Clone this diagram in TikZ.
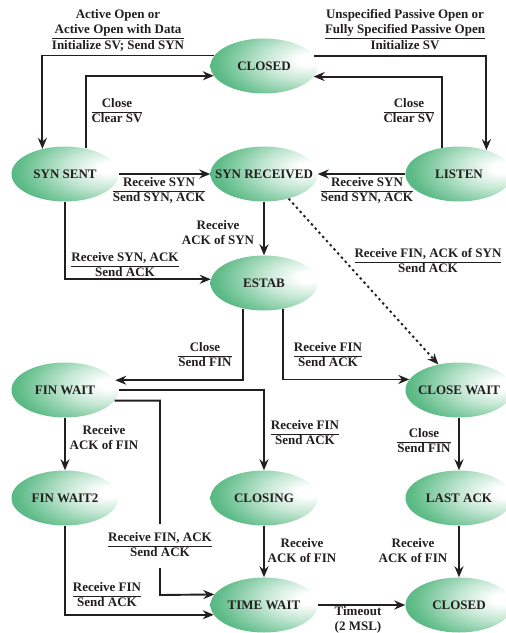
\documentclass[tikz,border=0pt]{standalone}
\usepackage{fontspec}
\setmainfont{Liberation Serif}
\usetikzlibrary{shapes.geometric,arrows.meta}

\definecolor{ink}{HTML}{231F20}
\definecolor{gdark}{RGB}{28,156,92}
\definecolor{gmid}{RGB}{95,188,136}
\definecolor{glight}{RGB}{196,231,211}

% green ellipse fill: light spot right of centre, deep green towards the left
\pgfdeclareradialshading{nodeglow}{\pgfpoint{22bp}{6bp}}{%
  color(0bp)=(white); color(5bp)=(white); color(18bp)=(glight);
  color(36bp)=(gmid); color(60bp)=(gdark); color(100bp)=(gdark)}

\newcommand\stname[1]{\makebox[0pt]{#1}}
\newcommand\ev[2]{\begin{tabular}{@{}c@{}}#1\\\hline #2\end{tabular}}
\setlength\arrayrulewidth{0.8pt}

\begin{document}
\begin{tikzpicture}[x=1pt,y=-1pt,
  font=\fontsize{13}{15}\selectfont\bfseries, text=ink,
  state/.style={ellipse, shade, shading=nodeglow, inner sep=0pt,
                minimum width=107pt, minimum height=55pt},
  arr/.style={draw=ink, line width=1.9pt, -{Stealth[length=11pt,width=9pt]}},
  dotarr/.style={arr, dash pattern=on 2.4pt off 3.2pt},
  lbl/.style={inner sep=1pt, align=center}]
\useasboundingbox (0,0) rectangle (506,633);

% states
\node[state] (closed)    at (264,66)  {\stname{CLOSED}};
\node[state] (synsent)   at (65,174)  {\stname{SYN SENT}};
\node[state] (synrcvd)   at (264,174) {\stname{SYN RECEIVED}};
\node[state] (listen)    at (459,174) {\stname{LISTEN}};
\node[state] (estab)     at (264,283) {\stname{ESTAB}};
\node[state] (finwait)   at (65,390)  {\stname{FIN WAIT}};
\node[state] (closewait) at (459,390) {\stname{CLOSE WAIT}};
\node[state] (finwaitb)  at (65,498)  {\stname{FIN WAIT2}};
\node[state] (closing)   at (264,498) {\stname{CLOSING}};
\node[state] (lastack)   at (459,498) {\stname{LAST ACK}};
\node[state] (timewait)  at (264,605) {\stname{TIME WAIT}};
\node[state] (closedb)   at (459,605) {\stname{CLOSED}};

% transitions
\draw[arr] (closed.168.6) -| (synsent.132.8);
\draw[arr] (synsent.51.9) |- (closed.191.4);
\draw[arr] (closed.11.4) -| (listen.41.3);
\draw[arr] (listen.123.1) |- (closed.348.6);
\draw[arr] (synsent.east) -- (synrcvd.west);
\draw[arr] (listen.west) -- (synrcvd.east);
\draw[arr] (synrcvd.south) -- (estab.north);
\draw[arr] (synsent.south) |- (estab.176.8);
\draw[dotarr] (synrcvd.-45) -- (closewait.129.7);
\draw[arr] (estab.231.9) |- (finwait.11.4);
\draw[arr] (estab.306.5) |- (closewait.168.6);
\draw[arr] (finwait.east) -| (closing.north);
\draw[arr] (finwait.south) -- (finwaitb.north);
\coordinate (bend) at (160,595);
\draw[arr] (finwait.348.6) -| (bend) -- (timewait.168.6);
\draw[arr] (finwaitb.south) |- (timewait.191.4);
\draw[arr] (closing.south) -- (timewait.north);
\draw[arr] (closewait.south) -- (lastack.north);
\draw[arr] (lastack.south) -- (closedb.north);
\draw[arr] (timewait.east) -- (closedb.west);

% events / actions
\node[lbl] (l1)  at (118,31)  {\ev{Active Open or\\Active Open with Data}{Initialize SV; Send SYN}};
\node[lbl] (l2)  at (117,112) {\ev{Close}{Clear SV}};
\node[lbl] (l3)  at (405,31)  {\ev{Unspecified Passive Open or\\Fully Specified Passive Open}{Initialize SV}};
\node[lbl] (l4)  at (409,112) {\ev{Close}{Clear SV}};
\node[lbl] (l5)  at (159,191) {\ev{Receive SYN}{Send SYN, ACK}};
\node[lbl] (l6)  at (367,191) {\ev{Receive SYN}{Send SYN, ACK}};
\node[lbl] (l7)  at (218,233) {Receive\\ACK of SYN};
\node[lbl] (l8)  at (125,266) {\ev{Receive SYN, ACK}{Send ACK}};
\node[lbl] (l9)  at (428,262) {\ev{Receive FIN, ACK of SYN}{Send ACK}};
\node[lbl] (l10) at (205,356) {\ev{Close}{Send FIN}};
\node[lbl] (l11) at (328,356) {\ev{Receive FIN}{Send ACK}};
\node[lbl] (l12) at (305,434) {\ev{Receive FIN}{Send ACK}};
\node[lbl] (l13) at (104,438) {Receive\\ACK of FIN};
\node[lbl, fill=white, inner ysep=7pt] (l14) at (160,546) {\ev{Receive FIN, ACK}{Send ACK}};
\node[lbl] (l15) at (107,596) {\ev{Receive FIN}{Send ACK}};
\node[lbl] (l16) at (302,551) {Receive\\ACK of FIN};
\node[lbl] (l17) at (424,442) {\ev{Close}{Send FIN}};
\node[lbl] (l18) at (413,551) {Receive\\ACK of FIN};
\node[lbl] (l19) at (358,620) {Timeout\\(2 MSL)};
\end{tikzpicture}
\end{document}
